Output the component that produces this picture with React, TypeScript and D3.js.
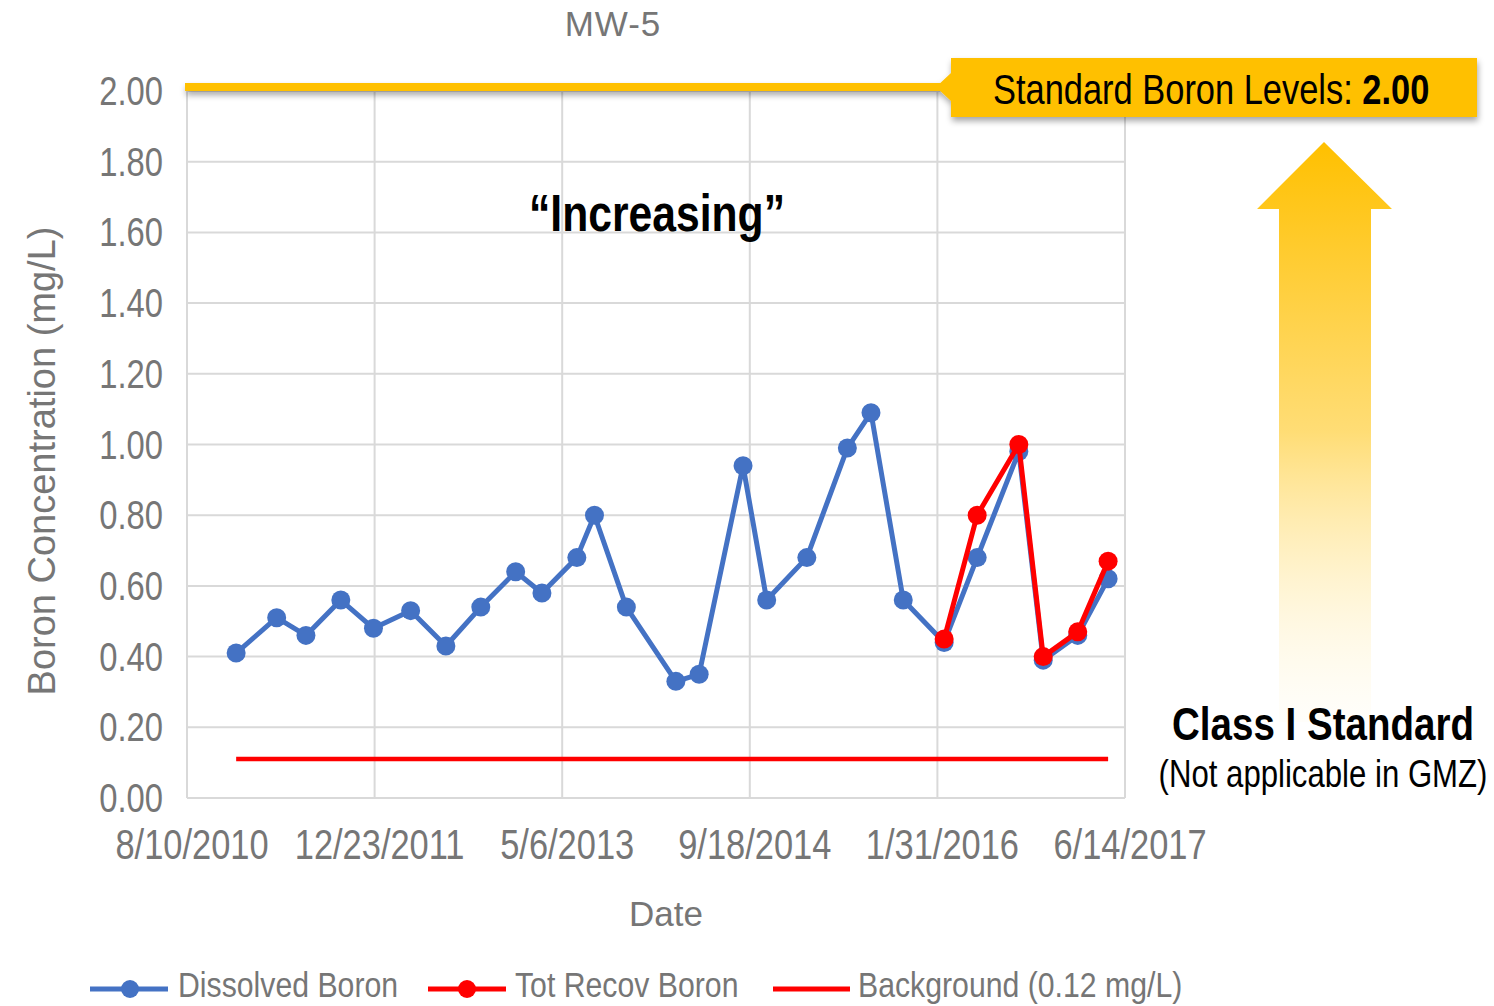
import React from 'react';
import * as d3 from 'd3';

// ---- data ----
const dissolvedDates = [
  '2010-12-19', '2011-04-06', '2011-06-23', '2011-09-24', '2011-12-20', '2012-03-28',
  '2012-06-30', '2012-10-01', '2013-01-02', '2013-03-13', '2013-06-14', '2013-07-31',
  '2013-10-24', '2014-03-05', '2014-05-06', '2014-08-31', '2014-11-02', '2015-02-17',
  '2015-06-05', '2015-08-07', '2015-11-01', '2016-02-18', '2016-05-16', '2016-09-04',
  '2016-11-08', '2017-02-08', '2017-04-30',
];
const dissolvedValues = [
  0.41, 0.51, 0.46, 0.56, 0.48, 0.53,
  0.43, 0.54, 0.64, 0.58, 0.68, 0.80,
  0.54, 0.33, 0.35, 0.94, 0.56, 0.68,
  0.99, 1.09, 0.56, 0.44, 0.68, 0.98,
  0.39, 0.46, 0.62,
];
const totRecovDates = ['2016-02-18', '2016-05-16', '2016-09-04', '2016-11-08', '2017-02-08', '2017-04-30'];
const totRecovValues = [0.45, 0.80, 1.00, 0.40, 0.47, 0.67];
const backgroundDates = ['2010-12-19', '2017-04-30'];
const backgroundValue = 0.11;
const standardLevel = 2.0;
const yTicks = [0, 0.2, 0.4, 0.6, 0.8, 1.0, 1.2, 1.4, 1.6, 1.8, 2.0];
const xTickDates = ['2010-08-10', '2011-12-23', '2013-05-06', '2014-09-18', '2016-01-31', '2017-06-14'];
const legendLabels = ['Dissolved Boron', 'Tot Recov Boron', 'Background (0.12 mg/L)'];
const titleText = 'MW-5';
const yAxisLabel = 'Boron Concentration  (mg/L)';
const xAxisLabel = 'Date';

const parse = d3.timeParse('%Y-%m-%d');
const fmt = d3.timeFormat('%-m/%-d/%Y');

const REG = "'Liberation Sans', Arial, sans-serif";
const GRAY = '#767676';
const BLUE = '#4472C4';
const RED = '#FF0000';
const GOLD = '#FFC000';

function NText(props: {
  x: number; y: number; size: number; anchor?: string; weight?: string; fill?: string; sx?: number;
  children: React.ReactNode;
}) {
  const { x, y, size, anchor = 'start', weight = 'normal', fill = '#000', sx = 0.82, children } = props;
  return (
    <text transform={`translate(${x},${y}) scale(${sx},1)`} textAnchor={anchor as any}
      fontFamily={REG} fontSize={size} fontWeight={weight} fill={fill}>
      {children}
    </text>
  );
}

export default function App() {
  const left = 187, right = 1125, top = 91, bottom = 798;
  const x = d3.scaleTime()
    .domain([parse(xTickDates[0])!, parse(xTickDates[xTickDates.length - 1])!])
    .range([left, right]);
  const y = d3.scaleLinear().domain([0, 2]).range([bottom, top]);

  const blue = dissolvedDates.map((d, i) => ({ d: parse(d)!, v: dissolvedValues[i] }));
  const red = totRecovDates.map((d, i) => ({ d: parse(d)!, v: totRecovValues[i] }));
  const line = d3.line<{ d: Date; v: number }>().x(p => x(p.d)).y(p => y(p.v));

  const bg0 = x(parse(backgroundDates[0])!);
  const bg1 = x(parse(backgroundDates[1])!);
  const yStd = y(standardLevel) - 4;

  return (
    <svg width={1494} height={1006} style={{ position: 'absolute', left: 0, top: 0, background: '#fff' }}>
      <defs>
        <filter id="sh" x="-10%" y="-50%" width="120%" height="250%">
          <feDropShadow dx="1" dy="4" stdDeviation="3" floodColor="#000" floodOpacity="0.35" />
        </filter>
        <linearGradient id="arrowGrad" x1="0" y1="0" x2="0" y2="1">
          <stop offset="0" stopColor={GOLD} stopOpacity="1" />
          <stop offset="0.5" stopColor="#FFD966" stopOpacity="0.9" />
          <stop offset="1" stopColor="#FFF8E0" stopOpacity="0.15" />
        </linearGradient>
      </defs>

      {/* title */}
      <text x={613} y={36} textAnchor="middle" fontFamily={REG} fontSize={35} fill={GRAY} letterSpacing={1}>{titleText}</text>

      {/* gridlines */}
      {yTicks.map(t => (
        <line key={'h' + t} x1={left} x2={right} y1={y(t)} y2={y(t)} stroke="#d9d9d9" strokeWidth={2} />
      ))}
      {xTickDates.map(t => (
        <line key={'v' + t} x1={x(parse(t)!)} x2={x(parse(t)!)} y1={top} y2={bottom} stroke="#d9d9d9" strokeWidth={2} />
      ))}

      {/* y tick labels */}
      {yTicks.map(t => (
        <NText key={'yl' + t} x={163} y={y(t) + 14} anchor="end" size={40} fill={GRAY}>
          {t.toFixed(2)}
        </NText>
      ))}
      {/* x tick labels */}
      {xTickDates.map(t => (
        <NText key={'xl' + t} x={x(parse(t)!) + 5} y={859} anchor="middle" size={42} fill={GRAY}>
          {fmt(parse(t)!)}
        </NText>
      ))}

      {/* axis titles */}
      <text transform="translate(55,461) rotate(-90)" textAnchor="middle" fontFamily={REG} fontSize={38} fill={GRAY}>
        {yAxisLabel}
      </text>
      <text x={666} y={926} textAnchor="middle" fontFamily={REG} fontSize={35} fill={GRAY}>{xAxisLabel}</text>

      {/* standard line + callout */}
      <g filter="url(#sh)">
        <line x1={185} x2={945} y1={yStd} y2={yStd} stroke={GOLD} strokeWidth={8} />
        <path d={`M936,${yStd} L951,73 L951,58 L1477,58 L1477,117 L951,117 L951,101 Z`} fill={GOLD} />
      </g>
      <NText x={993} y={104} size={42}>
        Standard Boron Levels: <tspan fontWeight="bold">{standardLevel.toFixed(2)}</tspan>
      </NText>

      {/* arrow */}
      <path d="M1324,142 L1392,209 L1371,209 L1371,722 L1279,722 L1279,209 L1257,209 Z" fill="url(#arrowGrad)" />
      <NText x={1323} y={740} anchor="middle" weight="bold" size={47}>Class I Standard</NText>
      <NText x={1323} y={787} anchor="middle" size={38}>(Not applicable in GMZ)</NText>

      {/* Increasing label */}
      <NText x={657} y={231} anchor="middle" weight="bold" size={52}>“Increasing”</NText>

      {/* background line */}
      <line x1={bg0} x2={bg1} y1={y(backgroundValue)} y2={y(backgroundValue)} stroke={RED} strokeWidth={4.5} />

      {/* dissolved boron */}
      <path d={line(blue)!} fill="none" stroke={BLUE} strokeWidth={5} strokeLinejoin="round" />
      {blue.map((p, i) => (
        <circle key={'b' + i} cx={x(p.d)} cy={y(p.v)} r={9.5} fill={BLUE} />
      ))}

      {/* tot recov boron */}
      <path d={line(red)!} fill="none" stroke={RED} strokeWidth={5} strokeLinejoin="round" />
      {red.map((p, i) => (
        <circle key={'r' + i} cx={x(p.d)} cy={y(p.v)} r={9.5} fill={RED} />
      ))}

      {/* legend */}
      <g>
        <line x1={90} x2={168} y1={989} y2={989} stroke={BLUE} strokeWidth={5} />
        <circle cx={130} cy={989} r={9} fill={BLUE} />
        <NText x={178} y={997} size={36} fill={GRAY} sx={0.84}>{legendLabels[0]}</NText>
        <line x1={428} x2={506} y1={989} y2={989} stroke={RED} strokeWidth={5} />
        <circle cx={467} cy={989} r={9} fill={RED} />
        <NText x={515} y={997} size={36} fill={GRAY} sx={0.84}>{legendLabels[1]}</NText>
        <line x1={773} x2={850} y1={989} y2={989} stroke={RED} strokeWidth={5} />
        <NText x={858} y={997} size={36} fill={GRAY} sx={0.84}>{legendLabels[2]}</NText>
      </g>
    </svg>
  );
}
